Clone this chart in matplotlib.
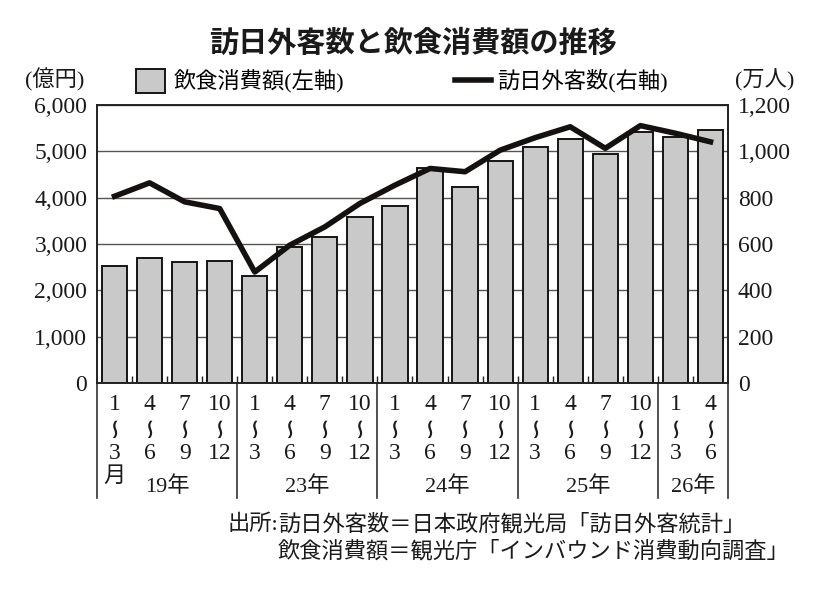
import numpy as np
import matplotlib
matplotlib.use("Agg")
import matplotlib.pyplot as plt
import matplotlib.transforms as mtransforms
from matplotlib.ticker import FuncFormatter

plt.rcParams['font.family'] = ['Liberation Serif', 'Noto Sans CJK JP']

# データ（四半期ごと）
q_start = ["1", "4", "7", "10"] * 4 + ["1", "4"]
q_end = ["3", "6", "9", "12"] * 4 + ["3", "6"]
years = ["19年", "23年", "24年", "25年", "26年"]
year_counts = [4, 4, 4, 4, 2]
# 飲食消費額（億円、左軸）
food_spend = [2520, 2690, 2620, 2625, 2320, 2935, 3150, 3590, 3810, 4650,
              4220, 4790, 5100, 5260, 4935, 5420, 5315, 5460]
# 訪日外客数（万人、右軸）
visitors = [806, 864, 782, 753, 479, 595, 674, 775, 854, 926,
            912, 1005, 1059, 1106, 1013, 1111, 1078, 1041]

W, H = 820, 590
fig = plt.figure(figsize=(W / 100, H / 100), dpi=100)
ax = fig.add_axes([97 / W, 1 - 383 / H, (728 - 97) / W, (383 - 105) / H])

x = np.arange(len(food_spend))
ax.set_axisbelow(True)
ax.yaxis.grid(True, color='#555555', lw=1.0)
bars = ax.bar(x, food_spend, width=0.72, color='#c9c9c9',
              edgecolor='#151515', lw=1.4, zorder=2)
ax.set_xlim(-0.5, len(x) - 0.5)
ax.set_ylim(0, 6000)
ax.set_yticks(range(0, 6001, 1000))
ax.yaxis.set_major_formatter(FuncFormatter(lambda v, p: f"{v:,.0f}"))

ax2 = ax.twinx()
line, = ax2.plot(x, visitors, color='#151111', lw=4.0, zorder=3)
ax2.set_ylim(0, 1200)
ax2.set_yticks(range(0, 1201, 200))
ax2.yaxis.set_major_formatter(FuncFormatter(lambda v, p: f"{v:,.0f}"))

for a in (ax, ax2):
    a.tick_params(axis='y', length=0, pad=7, labelsize=17, colors='#1a1a1a')
    for s in a.spines.values():
        s.set_color('#222222')
        s.set_linewidth(1.2)

ax.set_xticks([])
ax.set_xticks(np.arange(0.5, len(x) - 1, 1), minor=True)
ax.tick_params(axis='x', which='minor', direction='in', length=5, width=1.0,
               color='#222222', labelbottom=False)
ax2.set_xticks([])

# x軸ラベル（四半期と年）
trans = mtransforms.blended_transform_factory(ax.transData, ax.transAxes)
for i in x:
    ax.text(i, -0.079, q_start[i], transform=trans, ha='center', va='center',
            fontsize=17, color='#1a1a1a')
    ax.text(i - 0.03, -0.157, "∽", transform=trans, ha='center', va='center',
            rotation=90, fontsize=20, color='#1a1a1a', family=['DejaVu Sans'])
    ax.text(i, -0.252, q_end[i], transform=trans, ha='center', va='center',
            fontsize=17, color='#1a1a1a')
ax.text(0, -0.338, "月", transform=trans, ha='center', va='center',
        fontsize=16, color='#1a1a1a')

bounds = np.concatenate([[0], np.cumsum(year_counts)]) - 0.5
for b in bounds:
    ax.plot([b, b], [0, -0.414], transform=trans, clip_on=False,
            color='#333333', lw=1.2)
for k, yl in enumerate(years):
    cx = (bounds[k] + bounds[k + 1]) / 2
    ax.text(cx, -0.371, yl, transform=trans, ha='center', va='center',
            fontsize=16, color='#1a1a1a')

# タイトル・単位
fig.text(413 / W, 1 - 43 / H, "訪日外客数と飲食消費額の推移", ha='center',
         va='center', fontsize=21, fontweight='bold', family=['Noto Sans CJK JP'],
         color='#1a1a1a')
fig.text(55 / W, 1 - 80 / H, "(億円)", ha='center', va='center', fontsize=16,
         color='#1a1a1a')
fig.text(765 / W, 1 - 80 / H, "(万人)", ha='center', va='center', fontsize=16,
         color='#1a1a1a')

# 凡例
leg1 = ax2.legend([bars], ["飲食消費額(左軸)"], loc='center left',
                  bbox_to_anchor=(136 / W, 1 - 81 / H), bbox_transform=fig.transFigure,
                  frameon=False, handlelength=1.3, handleheight=1.3, fontsize=16,
                  borderpad=0, borderaxespad=0, handletextpad=0.4)
ax2.add_artist(leg1)
ax2.legend([line], ["訪日外客数(右軸)"], loc='center left',
           bbox_to_anchor=(455 / W, 1 - 81 / H), bbox_transform=fig.transFigure,
           frameon=False, handlelength=1.6, fontsize=16,
           borderpad=0, borderaxespad=0, handletextpad=0.3)

# 出所
fig.text(278 / W, 1 - 525 / H, "出所:", ha='right', va='center', fontsize=16,
         color='#1a1a1a')
fig.text(278 / W, 1 - 525 / H, "訪日外客数＝日本政府観光局「訪日外客統計」",
         ha='left', va='center', fontsize=16, color='#1a1a1a')
fig.text(278 / W, 1 - 552 / H, "飲食消費額＝観光庁「インバウンド消費動向調査」",
         ha='left', va='center', fontsize=16, color='#1a1a1a')

fig.savefig("out.png", dpi=100, facecolor='white')
